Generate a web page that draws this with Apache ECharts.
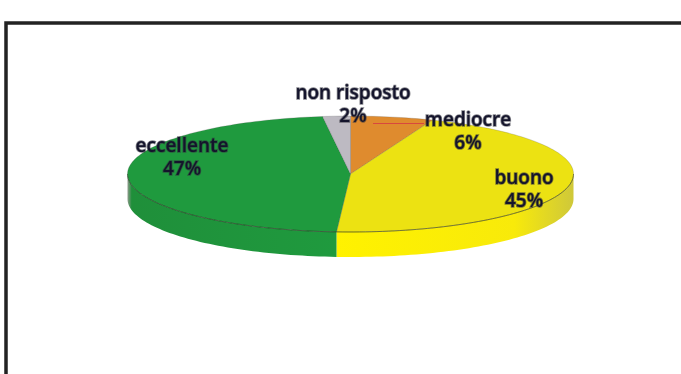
<!DOCTYPE html>
<html>
<head>
<meta charset="utf-8">
<style>html,body{margin:0;padding:0;background:#fff}#chart{width:681px;height:374px}</style>
<script src="https://cdn.jsdelivr.net/npm/echarts@6/dist/echarts.min.js"></script>
</head>
<body>
<div id="chart"></div>
<script>
// Survey answers, clockwise from twelve o'clock
const categories = ['mediocre', 'buono', 'eccellente', 'non risposto'];
const shares = [6, 45, 47, 2];

// Tilted disc geometry
const CX = 350.5, CY = 174, RX = 223, RY = 58, DEPTH = 25;
const topColors = ['#df8b2e', '#ece212', '#1f9a3e', '#bdbac2'];
const wallColors = [
  '#df8b2e',
  { type: 'linear', x: 0, y: 0, x2: 1, y2: 0, colorStops: [
    { offset: 0, color: '#fff200' }, { offset: 0.75, color: '#f8ea0a' }, { offset: 1, color: '#cfc83a' }
  ] },
  { type: 'linear', x: 0, y: 0, x2: 1, y2: 0, colorStops: [
    { offset: 0, color: '#8f9a8c' }, { offset: 0.02, color: '#1f8f3a' }, { offset: 1, color: '#1f9a3e' }
  ] },
  '#bdbac2'
];
// Label centres, one per category
const labelAnchors = [[468, 132], [524, 190], [182, 158], [353, 105]];

const total = shares.reduce((a, b) => a + b, 0);
const rimPoint = (deg, dy) => {
  const t = deg * Math.PI / 180;
  return [CX + RX * Math.sin(t), CY - RY * Math.cos(t) + dy];
};
const arc = (from, to, dy) => {
  const pts = [];
  const n = Math.max(2, Math.ceil(Math.abs(to - from) / 1.5));
  for (let i = 0; i <= n; i++) pts.push(rimPoint(from + (to - from) * i / n, dy));
  return pts;
};

function renderSlice(params, api) {
  const i = params.dataIndex;
  const startShare = shares.slice(0, i).reduce((a, b) => a + b, 0);
  const a0 = startShare / total * 360;
  const a1 = a0 + api.value(0) / total * 360;
  const children = [];

  // Side wall: only the part of the rim that faces the viewer
  const w0 = Math.max(a0, 90), w1 = Math.min(a1, 270);
  if (w1 > w0) {
    const upper = arc(w0, w1, 0);
    const lower = arc(w1, w0, DEPTH);
    children.push({
      type: 'polygon',
      shape: { points: upper.concat(lower) },
      style: { fill: wallColors[i] }
    });
    children.push({
      type: 'polyline',
      z2: 3,
      shape: { points: upper },
      style: { fill: null, stroke: 'rgba(40,50,30,0.55)', lineWidth: 1 }
    });
  }

  // Top face of the slice
  children.push({
    type: 'polygon',
    z2: 2,
    shape: { points: [[CX, CY]].concat(arc(a0, a1, 0)) },
    style: { fill: topColors[i], stroke: 'rgba(70,70,70,0.35)', lineWidth: 0.6 }
  });

  // Leader line of the narrow orange slice
  if (i === 0) {
    children.push({
      type: 'line',
      z2: 4,
      shape: { x1: 373, y1: 123.5, x2: 424, y2: 123.5 },
      style: { stroke: '#d8483e', lineWidth: 1 }
    });
  }

  // Name and percentage
  children.push({
    type: 'text',
    z2: 10,
    style: {
      x: labelAnchors[i][0],
      y: labelAnchors[i][1],
      text: categories[i] + '\n' + api.value(0) + '%',
      align: 'center',
      verticalAlign: 'middle',
      font: '600 19px "Open Sans", sans-serif',
      lineHeight: 23,
      fill: '#14142c',
      stroke: 'rgba(50,50,60,0.6)',
      lineWidth: 1.6,
      shadowColor: 'rgba(60,60,70,0.5)',
      shadowBlur: 2
    }
  });
  return { type: 'group', children };
}

const chart = echarts.init(document.getElementById('chart'), null, { renderer: 'canvas' });
chart.setOption({
  animation: false,
  backgroundColor: '#ffffff',
  // Frame: left and top rules only
  graphic: [{
    type: 'polyline',
    silent: true,
    shape: { points: [[6, 374], [6, 23], [681, 23]] },
    style: { fill: null, stroke: '#222222', lineWidth: 3.5 }
  }],
  series: [{
    type: 'custom',
    coordinateSystem: 'none',
    silent: true,
    renderItem: renderSlice,
    data: shares.map((v, i) => ({ name: categories[i], value: [v] }))
  }]
});
</script>
</body>
</html>
